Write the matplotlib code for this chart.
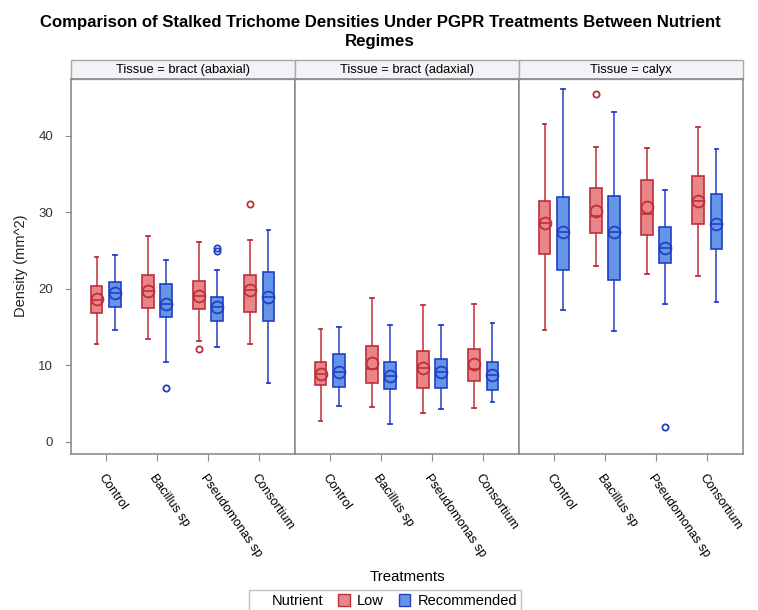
import matplotlib
matplotlib.use("Agg")
import matplotlib.pyplot as plt
from matplotlib.patches import Rectangle, Patch
from matplotlib.lines import Line2D

plt.rcParams['font.family'] = ['Liberation Sans', 'DejaVu Sans']

# ---------------- data ----------------
tissues = ["bract (abaxial)", "bract (adaxial)", "calyx"]
treatments = ["Control", "Bacillus sp", "Pseudomonas sp", "Consortium"]
nutrients = ["Low", "Recommended"]

# bract (abaxial)
abax_low_whislo = [12.8, 13.4, 13.2, 12.8]
abax_low_q1     = [16.9, 17.5, 17.4, 17.0]
abax_low_med    = [18.6, 19.8, 19.1, 19.9]
abax_low_mean   = [18.65, 19.8, 19.1, 19.9]
abax_low_q3     = [20.4, 21.8, 21.0, 21.8]
abax_low_whishi = [24.2, 26.9, 26.1, 26.4]
abax_low_out    = [[], [], [12.2], [31.1]]

abax_rec_whislo = [14.6, 10.5, 12.4, 7.7]
abax_rec_q1     = [17.6, 16.3, 15.8, 15.8]
abax_rec_med    = [19.5, 18.0, 17.7, 19.0]
abax_rec_mean   = [19.5, 18.0, 17.7, 19.0]
abax_rec_q3     = [20.9, 20.6, 19.0, 22.2]
abax_rec_whishi = [24.4, 23.8, 22.5, 27.7]
abax_rec_out    = [[], [7.1], [25.0, 25.4], []]

# bract (adaxial)
adax_low_whislo = [2.8, 4.6, 3.8, 4.5]
adax_low_q1     = [7.45, 7.75, 7.06, 8.0]
adax_low_med    = [8.9, 9.6, 9.7, 9.6]
adax_low_mean   = [8.9, 10.3, 9.7, 10.2]
adax_low_q3     = [10.5, 12.5, 11.9, 12.2]
adax_low_whishi = [14.8, 18.8, 17.9, 18.0]
adax_low_out    = [[], [], [], []]

adax_rec_whislo = [4.7, 2.4, 4.3, 5.2]
adax_rec_q1     = [7.2, 6.9, 7.06, 6.75]
adax_rec_med    = [9.2, 8.6, 9.1, 8.8]
adax_rec_mean   = [9.2, 8.6, 9.1, 8.8]
adax_rec_q3     = [11.5, 10.5, 10.8, 10.4]
adax_rec_whishi = [15.0, 15.3, 15.3, 15.5]
adax_rec_out    = [[], [], [], []]

# calyx
caly_low_whislo = [14.6, 23.0, 22.0, 21.7]
caly_low_q1     = [24.6, 27.3, 27.0, 28.5]
caly_low_med    = [28.6, 29.5, 29.8, 31.5]
caly_low_mean   = [28.6, 30.2, 30.7, 31.5]
caly_low_q3     = [31.5, 33.2, 34.3, 34.8]
caly_low_whishi = [41.6, 38.6, 38.4, 41.2]
caly_low_out    = [[], [45.5], [], []]

caly_rec_whislo = [17.3, 14.5, 18.0, 18.3]
caly_rec_q1     = [22.5, 21.2, 23.4, 25.2]
caly_rec_med    = [27.5, 27.4, 25.3, 28.5]
caly_rec_mean   = [27.5, 27.4, 25.3, 28.5]
caly_rec_q3     = [32.0, 32.2, 28.1, 32.4]
caly_rec_whishi = [46.2, 43.1, 32.9, 38.3]
caly_rec_out    = [[], [], [2.0], []]

panel_data = [
    [(abax_low_whislo, abax_low_q1, abax_low_med, abax_low_mean, abax_low_q3, abax_low_whishi, abax_low_out),
     (abax_rec_whislo, abax_rec_q1, abax_rec_med, abax_rec_mean, abax_rec_q3, abax_rec_whishi, abax_rec_out)],
    [(adax_low_whislo, adax_low_q1, adax_low_med, adax_low_mean, adax_low_q3, adax_low_whishi, adax_low_out),
     (adax_rec_whislo, adax_rec_q1, adax_rec_med, adax_rec_mean, adax_rec_q3, adax_rec_whishi, adax_rec_out)],
    [(caly_low_whislo, caly_low_q1, caly_low_med, caly_low_mean, caly_low_q3, caly_low_whishi, caly_low_out),
     (caly_rec_whislo, caly_rec_q1, caly_rec_med, caly_rec_mean, caly_rec_q3, caly_rec_whishi, caly_rec_out)],
]

# ---------------- style ----------------
fill_colors = ["#E98589", "#6495E6"]
edge_colors = ["#BE3038", "#2340C4"]
offsets = [-0.18, 0.18]
spine_color = "#8C8C8C"

W, H = 758, 610
fig = plt.figure(figsize=(W / 100, H / 100), dpi=100)

px_left, px_w = 71, 224
px_top, px_bottom = 79, 454
strip_h = 19

axes = []
for i in range(3):
    l = (px_left + i * px_w) / W
    b = (H - px_bottom) / H
    ax = fig.add_axes([l, b, px_w / W, (px_bottom - px_top) / H])
    axes.append(ax)
    for k in range(2):
        wl, q1, md, mn, q3, wh, out = panel_data[i][k]
        stats = []
        for j in range(len(treatments)):
            stats.append(dict(whislo=wl[j], q1=q1[j], med=md[j], mean=mn[j],
                              q3=q3[j], whishi=wh[j], fliers=out[j]))
        pos = [j + offsets[k] for j in range(len(treatments))]
        ec = edge_colors[k]
        ax.bxp(stats, positions=pos, widths=0.23, showmeans=True, patch_artist=True,
               capwidths=0.07,
               boxprops=dict(facecolor=fill_colors[k], edgecolor=ec, linewidth=1.2),
               whiskerprops=dict(color=ec, linewidth=1.1),
               capprops=dict(color=ec, linewidth=1.3),
               medianprops=dict(color=ec, linewidth=1.2),
               meanprops=dict(marker='o', markerfacecolor='none', markeredgecolor=ec,
                              markersize=8.5, markeredgewidth=1.3),
               flierprops=dict(marker='o', markerfacecolor='none', markeredgecolor=ec,
                               markersize=4.5, markeredgewidth=1.3))
    ax.set_xlim(-0.68, 3.70)
    ax.set_ylim(-1.57, 47.45)
    ax.set_xticks(range(len(treatments)))
    ax.set_xticklabels(treatments, rotation=-55, ha='left', va='top',
                       rotation_mode='anchor', fontsize=9.2)
    ax.tick_params(axis='x', length=5, color=spine_color, pad=8)
    for s in ax.spines.values():
        s.set_color(spine_color)
        s.set_linewidth(1.2)
    if i == 0:
        ax.set_yticks([0, 10, 20, 30, 40])
        ax.tick_params(axis='y', length=4, color=spine_color, labelsize=9.5,
                       labelcolor="#333333", pad=9)
    else:
        ax.set_yticks([])
    # header strip
    rect = Rectangle((0, 1), 1, strip_h / (px_bottom - px_top), transform=ax.transAxes,
                     facecolor="#F2F3F6", edgecolor="#A8A8A8", linewidth=1.0, clip_on=False)
    ax.add_patch(rect)
    ax.text(0.5, 1 + strip_h / 2 / (px_bottom - px_top), "Tissue = " + tissues[i],
            transform=ax.transAxes, ha='center', va='center', fontsize=9.3)

fig.text(380 / W, 1 - 32 / H,
         "Comparison of Stalked Trichome Densities Under PGPR Treatments Between Nutrient\nRegimes",
         ha='center', va='center', fontsize=12.1, fontweight='bold', linespacing=1.4)
fig.text(21 / W, 1 - 266 / H, "Density (mm^2)", rotation=90, ha='center', va='center',
         fontsize=10.5, color="#222222")
fig.text(407 / W, 1 - 577 / H, "Treatments", ha='center', va='center', fontsize=10.8)

handles = [Line2D([], [], linestyle='none'),
           Patch(facecolor=fill_colors[0], edgecolor=edge_colors[0]),
           Patch(facecolor=fill_colors[1], edgecolor=edge_colors[1])]
labels = ["Nutrient", nutrients[0], nutrients[1]]
leg = fig.legend(handles, labels, ncol=3, loc='center', bbox_to_anchor=(385 / W, 1 - 601 / H),
                 frameon=True, fontsize=10.5, handlelength=0.8, handleheight=0.8,
                 handletextpad=0.5, columnspacing=1.0, borderpad=0.3, fancybox=False,
                 edgecolor="#B0B0B0")
leg.get_frame().set_linewidth(1.0)

fig.savefig("out.png", dpi=100, facecolor='white')
